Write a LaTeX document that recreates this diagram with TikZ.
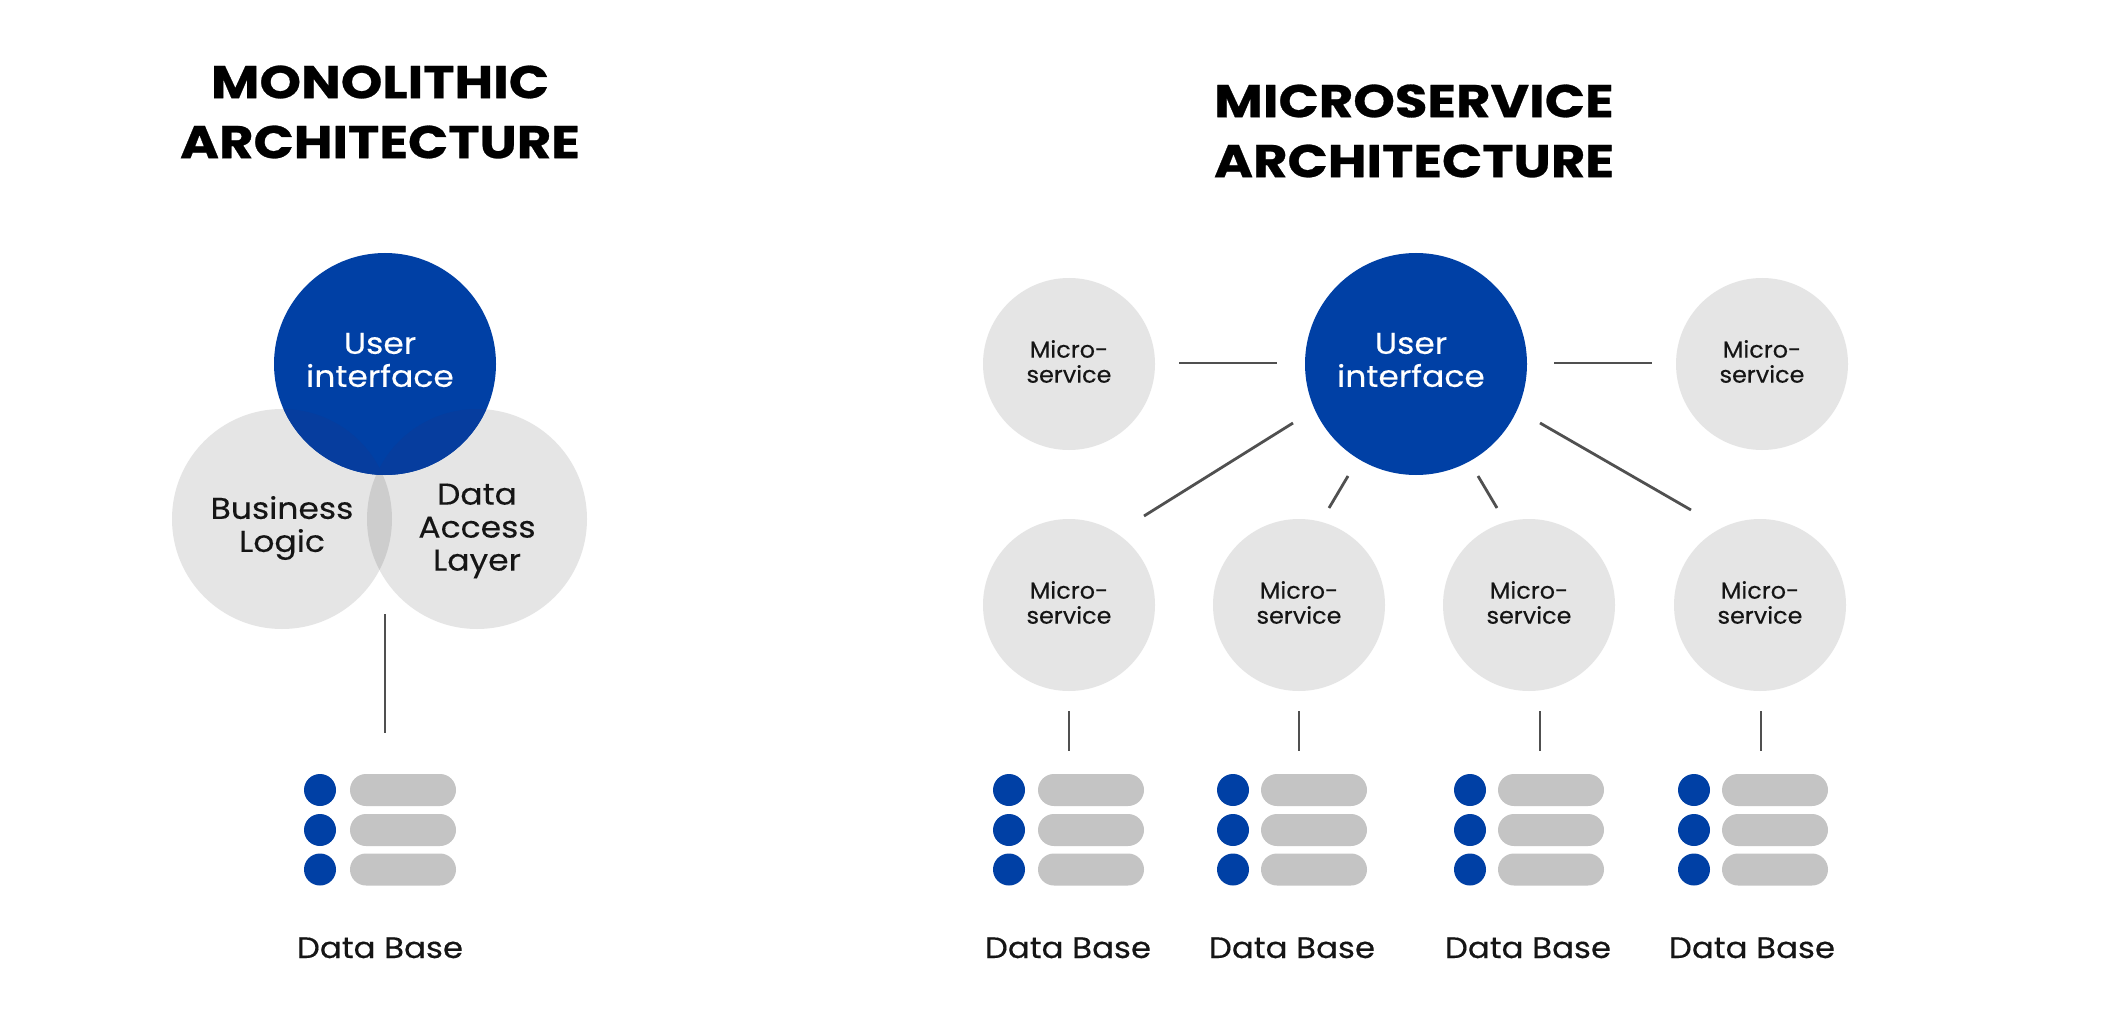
\documentclass[tikz,border=0pt]{standalone}
\usepackage{fontspec}
\setmainfont[FakeStretch=1.10,FakeBold=0.35]{Poppins}
\newfontfamily\ttlfont[FakeStretch=1.15,FakeBold=0.6]{Poppins Bold}
\newfontfamily\smallfont[FakeStretch=1.04,FakeBold=0.35]{Poppins}
\definecolor{uiblue}{HTML}{0040A5}
\definecolor{uidark}{HTML}{063D9E}
\definecolor{lightc}{HTML}{E5E5E5}
\definecolor{overlapc}{HTML}{CDCDCD}
\definecolor{pillc}{HTML}{C4C4C4}
\definecolor{linec}{HTML}{505050}
\definecolor{inkc}{HTML}{151515}
\usetikzlibrary{shapes.misc}
\tikzset{
 bluecirc/.style={circle,fill=uiblue,inner sep=0pt,minimum size=222pt},
 graycirc/.style={circle,fill=lightc,inner sep=0pt,minimum size=220pt},
 bigtext/.style={inner sep=0pt,align=center,font=\fontsize{30}{33}\selectfont},
 msvc/.style={circle,fill=lightc,inner sep=0pt,minimum size=172pt,
   label={[text=inkc,inner sep=0pt,align=center,font=\smallfont\fontsize{23}{25}\selectfont,yshift=2.5pt]center:Micro-\\service}},
 dot/.style={circle,fill=uiblue,inner sep=0pt,minimum size=32pt},
 pill/.style={rounded rectangle,fill=pillc,inner sep=0pt,minimum width=106pt,minimum height=32pt},
 dblabel/.style={text=inkc,inner sep=0pt,font=\fontsize{29.5}{32}\selectfont,anchor=base},
 ttl/.style={text=black,inner sep=0pt,align=center,font=\ttlfont\fontsize{46}{60}\selectfont},
 conn/.style={draw=linec,line width=2.8pt},
}
\begin{document}
\begin{tikzpicture}[x=1pt,y=-1pt]
\useasboundingbox (0,0) rectangle (2101,1024);
\fill[white] (0,0) rectangle (2101,1024);
% titles
\node[ttl] (t1) at (380,112) {MONOLITHIC\\ARCHITECTURE};
\node[ttl] (t2) at (1414,131) {MICROSERVICE\\ARCHITECTURE};
% monolith circles
\node[graycirc] (bl) at (282,519) {};
\node[graycirc] (dal) at (477,519) {};
\begin{scope}
 \clip (282,519) circle[radius=110];
 \fill[overlapc] (477,519) circle[radius=110];
\end{scope}
\node[bluecirc] (ui1) at (385,364) {};
\begin{scope}
 \clip (385,364) circle[radius=111];
 \fill[uidark] (282,519) circle[radius=110];
 \fill[uidark] (477,519) circle[radius=110];
\end{scope}
\node[bigtext,text=white] (ui1t) at (380,360) {User\\interface};
\node[bigtext,text=inkc] (blt) at (282,528) {Business\\Logic};
\node[bigtext,text=inkc] (dalt) at (477,531) {Data\\Access\\Layer};
\coordinate (m1) at (385,614);
\coordinate (m2) at (385,733);
\draw[conn] (m1) -- (m2);
% micro circles
\node[bluecirc] (ui2) at (1416,364) {};
\node[bigtext,text=white] (ui2t) at (1411,360) {User\\interface};
\node[msvc] (tl) at (1069,364) {};
\node[msvc] (tr) at (1762,364) {};
\node[msvc] (s1) at (1069,605) {};
\node[msvc] (s2) at (1299,605) {};
\node[msvc] (s3) at (1529,605) {};
\node[msvc] (s4) at (1760,605) {};
% connectors
\coordinate (a1) at (1179,363); \coordinate (a2) at (1277,363);
\coordinate (b1) at (1554,363); \coordinate (b2) at (1652,363);
\coordinate (c1) at (1293,423); \coordinate (c2) at (1144,516);
\coordinate (d1) at (1348,476); \coordinate (d2) at (1329,508);
\coordinate (e1) at (1478,476); \coordinate (e2) at (1497,508);
\coordinate (f1) at (1540,423); \coordinate (f2) at (1691,510);
\draw[conn] (a1) -- (a2);
\draw[conn] (b1) -- (b2);
\draw[conn] (c1) -- (c2);
\draw[conn] (d1) -- (d2);
\draw[conn] (e1) -- (e2);
\draw[conn] (f1) -- (f2);
\foreach \n/\x in {1/1069,2/1299,3/1540,4/1761}{
 \coordinate (v\n a) at (\x,711);
 \coordinate (v\n b) at (\x,751);
 \draw[conn] (v\n a) -- (v\n b);
}
% databases
\foreach \n/\dx/\px/\tx in {0/320/403/380,1/1009/1091/1068,2/1233/1314/1292,3/1470/1551/1528,4/1694/1775/1752}{
 \node[dot] (d\n a) at (\dx,790) {};
 \node[dot] (d\n b) at (\dx,830) {};
 \node[dot] (d\n c) at (\dx,869.5) {};
 \node[pill] (p\n a) at (\px,790) {};
 \node[pill] (p\n b) at (\px,830) {};
 \node[pill] (p\n c) at (\px,869.5) {};
 \node[dblabel] (l\n) at (\tx,958) {Data Base};
}
\end{tikzpicture}
\end{document}
